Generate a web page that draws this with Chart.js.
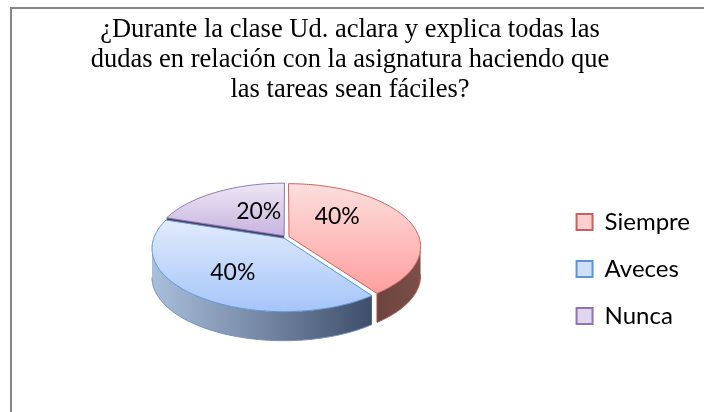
<!DOCTYPE html>
<html><head><meta charset="utf-8">
<style>html,body{margin:0;padding:0;background:#fff}#w{width:704px;height:412px;position:relative}</style>
<script src="https://cdn.jsdelivr.net/npm/chart.js@4"></script>
</head><body><div id="w"><canvas id="c" width="704" height="412"></canvas></div>
<script>
const titleLines = ["¿Durante la clase Ud. aclara y explica todas las","dudas en relación con la asignatura haciendo que","las tareas sean fáciles?"];
const categories = ["Siempre","Aveces","Nunca"];
const values = [40,40,20];
const fillColors = ["#fdd0d0","#cfe0fb","#e0d6ee"];
const edgeColors = ["#c9605c","#5b93d3","#8f73b5"];
const faceTop = ["#fbdfdd","#e1ebfc","#eee7f5"];
const faceBottom = ["#ff9f9f","#a5c5f9","#c6b4de"];
const wallLeft = ["#6a443d","#aabfdc","#5b4a6e"];
const wallRight = ["#7e4f4a","#3f4f6b","#4a3c5a"];
const labelNudge = [[-15,-10],[-8,6],[12,0]];

// 3D-like projection of the pie: near edge larger than far edge
const cam = {cx:286, cy:237, rx:130, ry:61.4, k:0.159, depth:29};
function project(c, s){ const w = 1 - cam.k*s; return [cam.cx + cam.rx*c/w, cam.cy + cam.ry*s/w]; }
function modelPoint(el, r, a){
  const p = el.getProps(["startAngle","endAngle"]);
  const mid = (p.startAngle+p.endAngle)/2, o = 0.024;
  return [r*Math.cos(a)+o*Math.cos(mid), r*Math.sin(a)+o*Math.sin(mid)];
}
function arcSamples(el, from, to){
  const out=[], n=Math.max(2,Math.ceil((to-from)/0.02));
  for(let i=0;i<=n;i++){ const a=from+(to-from)*i/n; const m=modelPoint(el,1,a); out.push(project(m[0],m[1])); }
  return out;
}
const pie3d = {
  id:"pie3d",
  beforeDraw(chart){
    const c=chart.ctx; c.save(); c.strokeStyle="#868686"; c.lineWidth=2;
    c.beginPath(); c.moveTo(11,412); c.lineTo(11,8); c.lineTo(704,8); c.stroke(); c.restore();
  },
  beforeDatasetsDraw(chart){
    const c=chart.ctx, meta=chart.getDatasetMeta(0), sil=Math.asin(cam.k);
    c.save(); c.lineJoin="round";
    [2,0,1].forEach(i=>{
      const el=meta.data[i], p=el.getProps(["startAngle","endAngle"]);
      const a0=p.startAngle, a1=p.endAngle, m=modelPoint(el,0,0), apex=project(m[0],m[1]);
      const from=Math.max(a0,-0.02+sil), to=Math.min(a1,Math.PI-sil);
      const rim=arcSamples(el,a0,a1), ax0=rim[0];
      if(to>from){
        const pts=arcSamples(el,from,to), xs=pts.map(q=>q[0]);
        const g=c.createLinearGradient(Math.min(...xs),0,Math.max(...xs),0);
        g.addColorStop(0,wallLeft[i]); g.addColorStop(1,wallRight[i]);
        c.beginPath(); pts.forEach((q,j)=>j?c.lineTo(q[0],q[1]):c.moveTo(q[0],q[1]));
        pts.slice().reverse().forEach(q=>c.lineTo(q[0],q[1]+cam.depth));
        c.closePath(); c.fillStyle=g; c.fill();
        c.strokeStyle=i===0?"#b8504c":"#6f8fc0"; c.lineWidth=1;
        c.beginPath(); pts.forEach((q,j)=>j?c.lineTo(q[0],q[1]+cam.depth):c.moveTo(q[0],q[1]+cam.depth)); c.stroke();
        if(i===0){ const e=pts[pts.length-1]; c.beginPath(); c.moveTo(e[0],e[1]); c.lineTo(e[0],e[1]+cam.depth); c.stroke(); }
      } else {
        c.beginPath(); c.moveTo(ax0[0],ax0[1]); c.lineTo(apex[0],apex[1]); c.lineTo(apex[0],apex[1]+5); c.lineTo(ax0[0],ax0[1]+5); c.closePath();
        c.fillStyle=wallRight[i]; c.fill();
      }
      const ys=rim.map(q=>q[1]);
      const tg=c.createLinearGradient(0,Math.min(...ys,apex[1]),0,Math.max(...ys,apex[1]));
      tg.addColorStop(0,faceTop[i]); tg.addColorStop(1,faceBottom[i]);
      c.beginPath(); c.moveTo(apex[0],apex[1]); rim.forEach(q=>c.lineTo(q[0],q[1])); c.closePath();
      c.fillStyle=tg; c.fill(); c.strokeStyle=edgeColors[i]; c.lineWidth=1; c.stroke();
    });
    const total=values.reduce((a,b)=>a+b,0);
    c.fillStyle="#000"; c.font="23px Lato"; c.textAlign="center"; c.textBaseline="middle";
    meta.data.forEach((el,i)=>{
      const p=el.getProps(["startAngle","endAngle"]), mid=(p.startAngle+p.endAngle)/2;
      const q=project(0.55*Math.cos(mid),0.55*Math.sin(mid));
      c.fillText(Math.round(values[i]/total*100)+"%",q[0]+labelNudge[i][0],q[1]+labelNudge[i][1]);
    });
    c.restore();
    return false;
  }
};
new Chart(document.getElementById("c"),{
  type:"pie",
  data:{labels:categories,datasets:[{data:values,backgroundColor:fillColors,borderColor:edgeColors,borderWidth:2}]},
  options:{
    responsive:false,animation:false,
    layout:{padding:{top:0,right:4,bottom:0,left:0}},
    plugins:{
      tooltip:{enabled:false},
      title:{display:true,text:titleLines,font:{family:"'Liberation Serif'",size:26.5,weight:"normal",lineHeight:1.13},color:"#000",padding:{top:15,bottom:21}},
      legend:{position:"right",fullSize:false,labels:{font:{family:"Lato",size:24},color:"#000",boxWidth:16,boxHeight:16,padding:23}}
    }
  },
  plugins:[pie3d]
});
</script></body></html>
